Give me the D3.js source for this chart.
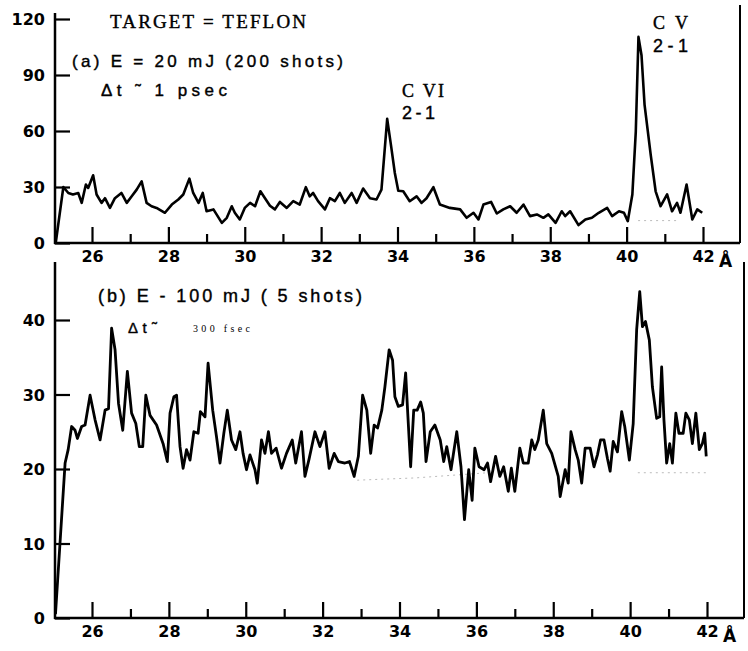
<!DOCTYPE html>
<html>
<head>
<meta charset="utf-8">
<script src="https://cdn.jsdelivr.net/npm/d3@7"></script>
<style>
  body { margin: 0; background: #fff; }
  svg { display: block; }
</style>
</head>
<body>
<svg id="chart" width="748" height="651"></svg>
<script>
// panel (a): E = 20 mJ, wavelength (A) and counts
let waveA = [25.05, 25.25, 25.38, 25.5, 25.64, 25.73, 25.84, 25.9, 26.03, 26.12, 26.25, 26.34, 26.47, 26.6, 26.77, 26.91,
  27.04, 27.17, 27.3, 27.43, 27.56, 27.69, 27.91, 28.09, 28.26, 28.39, 28.55, 28.65, 28.79, 28.9, 29.0, 29.18, 29.4,
  29.53, 29.66, 29.74, 29.87, 30.0, 30.14, 30.27, 30.41, 30.53, 30.66, 30.79, 30.92, 31.1, 31.27, 31.44, 31.6, 31.7,
  31.79, 31.92, 32.1, 32.23, 32.36, 32.49, 32.62, 32.8, 32.93, 33.1, 33.28, 33.45, 33.58, 33.73, 33.84, 33.93, 34.02,
  34.15, 34.32, 34.5, 34.63, 34.76, 34.94, 35.11, 35.37, 35.64, 35.81, 35.99, 36.12, 36.25, 36.45, 36.6, 36.77, 36.95,
  37.12, 37.3, 37.47, 37.65, 37.82, 37.95, 38.14, 38.3, 38.39, 38.52, 38.74, 38.92, 39.09, 39.27, 39.49, 39.62, 39.8,
  39.93, 40.03, 40.15, 40.24, 40.31, 40.39, 40.47, 40.63, 40.76, 40.89, 41.06, 41.19, 41.32, 41.41, 41.57, 41.72,
  41.85, 41.98];
let countsA = [0, 30, 26.8, 26, 26.8, 21.5, 31.3, 29.5, 36.3, 26, 21.5, 24, 18.8, 24, 26.8, 21.5,
  25, 28.6, 33, 21.5, 19.7, 18.8, 16.2, 20.6, 23.3, 26, 34.5, 26.8, 21.5, 26.8, 17, 18, 10.8,
  13.5, 19.7, 16.2, 12.6, 18.8, 21.5, 19.7, 27.7, 24, 20, 18, 22, 18.8, 22.4, 20.6, 29.9, 25,
  26.8, 22.4, 18, 24, 22.4, 26.8, 21.5, 26.8, 21.5, 29.2, 24, 23.3, 28.6, 66.5, 50.8, 37.5, 28,
  27.7, 22.4, 25, 21.5, 24, 29.9, 20.6, 18.8, 18, 13.5, 16.2, 12.6, 20.6, 22, 15.8, 18, 19.7,
  16.2, 20.6, 14.4, 15.3, 13.5, 15.3, 10.8, 17, 14.4, 17, 9.6, 12.6, 13.5, 16.2, 18.8, 14.4, 17,
  16.2, 11.7, 26, 59.7, 110.4, 100.6, 74, 47.3, 27.7, 19.7, 26, 17, 21.5, 16.2, 31.3, 12.6,
  18, 16.2];

// panel (b): E ~ 100 mJ
let waveB = [25.05, 25.3, 25.38, 25.47, 25.56, 25.62, 25.73, 25.82, 25.95, 26.08, 26.21, 26.34, 26.43, 26.51, 26.6,
  26.69, 26.8, 26.92, 27.03, 27.14, 27.23, 27.32, 27.4, 27.51, 27.68, 27.85, 27.96, 28.03, 28.13, 28.2, 28.29, 28.37,
  28.46, 28.55, 28.65, 28.76, 28.82, 28.94, 29.02, 29.14, 29.24, 29.33, 29.43, 29.52, 29.63, 29.74, 29.85, 29.93,
  30.02, 30.11, 30.24, 30.3, 30.41, 30.5, 30.59, 30.67, 30.79, 30.93, 31.06, 31.21, 31.3, 31.45, 31.54, 31.65, 31.8,
  31.93, 32.06, 32.17, 32.3, 32.41, 32.58, 32.7, 32.82, 32.93, 33.04, 33.15, 33.25, 33.34, 33.43, 33.54, 33.62, 33.73,
  33.82, 33.88, 33.97, 34.08, 34.16, 34.21, 34.29, 34.37, 34.46, 34.55, 34.62, 34.69, 34.8, 34.92, 35.06, 35.15,
  35.23, 35.34, 35.49, 35.6, 35.69, 35.8, 35.89, 35.96, 36.07, 36.2, 36.29, 36.37, 36.5, 36.61, 36.71, 36.83, 36.91,
  37.0, 37.13, 37.22, 37.35, 37.44, 37.52, 37.61, 37.74, 37.83, 37.96, 38.13, 38.18, 38.31, 38.39, 38.46, 38.57,
  38.65, 38.74, 38.83, 38.96, 39.06, 39.15, 39.23, 39.32, 39.41, 39.48, 39.56, 39.67, 39.78, 39.86, 39.98, 40.08,
  40.17, 40.25, 40.32, 40.4, 40.5, 40.58, 40.69, 40.77, 40.82, 40.88, 40.95, 41.03, 41.1, 41.19, 41.27, 41.38, 41.45,
  41.54, 41.62, 41.71, 41.8, 41.88, 41.94, 41.98];
let countsB = [0.5, 20.8, 22.6, 25.7, 25.2, 24.1, 25.7, 25.9, 29.9, 26.6, 23.9, 27.9, 28.1, 38.9, 36,
  28.8, 25.2, 33.1, 27.5, 26.1, 23, 23, 29.9, 27.2, 25.9, 23.4, 21, 27.5, 29.7, 29.9, 23, 20.1,
  22.6, 21.2, 25, 24.8, 27.7, 27, 34.2, 27.9, 24.3, 20.8, 24.8, 27.9, 23.9, 22.6, 25, 22.1,
  19.9, 21.9, 19.9, 18.1, 23.9, 22.1, 25, 22.1, 22.8, 20.1, 22.1, 23.9, 20.8, 25, 19, 21.4, 25,
  23, 25, 20.1, 22.1, 21, 20.8, 21, 19, 21.7, 29.9, 27.9, 22.1, 25.9, 25.5, 27.9, 31, 36,
  34.6, 29.7, 28.4, 28.6, 32.9, 27.9, 20.3, 27.9, 27.9, 29, 27.5, 21, 25, 25.9, 23.9, 21,
  23, 19.9, 25, 20.3, 13.2, 19.9, 15.8, 22.8, 20.3, 19.9, 20.8, 18.3, 21.7, 19, 20.3, 17, 20.1,
  17, 22.8, 20.8, 20.8, 23.9, 22.6, 23.9, 27.9, 23.4, 22.1, 19, 16.3, 19.9, 18.1, 25, 22.6,
  21.2, 18.1, 22.8, 22.8, 20.3, 21.9, 23.9, 23.9, 21.4, 19.7, 23.7, 22.3, 27.7, 25.7, 21.2, 26.1,
  38.7, 43.8, 39.1, 39.8, 37.3, 31, 26.8, 27, 33.7, 26.6, 20.8, 23.4, 20.8, 27.5, 24.8, 24.8, 27.5,
  26.6, 23.4, 27.5, 22.6, 23.4, 24.8, 21.7];

// faint dotted baselines drawn under the lines
let baseA = [[40.3, 12], [41.4, 12]];
let baseB1 = [[32.9, 18.5], [34.4, 18.8], [36.3, 19.5]];
let baseB2 = [[40.2, 19.5], [42.0, 19.5]];

let majorTicks = [26, 28, 30, 32, 34, 36, 38, 40, 42];
let minorTicks = [27, 29, 31, 33, 35, 37, 39, 41];
let yTicksA = [0, 30, 60, 90, 120];
let yTicksB = [0, 10, 20, 30, 40];

let svg = d3.select("#chart");
let tickFont = "'DejaVu Sans', 'Liberation Sans', sans-serif";

function drawPanel(cfg) {
  let x = d3.scaleLinear().domain([26, 42]).range([cfg.x26, cfg.x42]);
  let y = d3.scaleLinear().domain([0, cfg.yTop]).range([cfg.y0, cfg.yTopPx]);

  let g = svg.append("g");

  // frame: left axis, bottom axis, right border
  g.append("line").attr("x1", 55).attr("x2", 55).attr("y1", cfg.axisTop).attr("y2", cfg.y0 + 1)
    .attr("stroke", "#000").attr("stroke-width", 2.5);
  g.append("line").attr("x1", 54).attr("x2", cfg.right).attr("y1", cfg.y0).attr("y2", cfg.y0)
    .attr("stroke", "#000").attr("stroke-width", 2.5);
  g.append("line").attr("x1", cfg.right).attr("x2", cfg.right).attr("y1", cfg.rightTop).attr("y2", cfg.y0)
    .attr("stroke", "#000").attr("stroke-width", 2);

  // x ticks point up, labels below
  let xMajor = d3.axisBottom(x).tickValues(majorTicks).tickSizeInner(-16).tickSizeOuter(0).tickPadding(8);
  let xg = g.append("g").attr("transform", "translate(0," + cfg.y0 + ")").call(xMajor);
  let xMinor = d3.axisBottom(x).tickValues(minorTicks).tickSizeInner(-9).tickSizeOuter(0).tickFormat("");
  let xg2 = g.append("g").attr("transform", "translate(0," + cfg.y0 + ")").call(xMinor);

  // y ticks point right
  let yAxis = d3.axisLeft(y).tickValues(cfg.yTicks).tickSizeInner(-15).tickSizeOuter(0).tickPadding(10);
  let yg = g.append("g").attr("transform", "translate(55,0)").call(yAxis);

  for (let a of [xg, xg2, yg]) {
    a.select(".domain").remove();
    a.selectAll(".tick line").attr("stroke", "#000").attr("stroke-width", 2.2);
    a.selectAll(".tick text")
      .style("font-family", tickFont)
      .style("font-weight", "bold")
      .style("font-size", "16px")
      .attr("fill", "#000");
  }
  yg.selectAll(".tick text").attr("dy", "0.36em");

  // angstrom sign after the last label
  g.append("text")
    .attr("x", cfg.angX)
    .attr("y", cfg.y0 + 24)
    .text("Å")
    .style("font-family", tickFont)
    .style("font-weight", "bold")
    .style("font-size", "17px");

  // dotted baselines
  let line = d3.line().x(d => x(d[0])).y(d => y(d[1]));
  for (let b of cfg.bases) {
    g.append("path")
      .attr("d", line(b))
      .attr("fill", "none")
      .attr("stroke", "#bbb")
      .attr("stroke-width", 1)
      .attr("stroke-dasharray", "2,4");
  }

  // the spectrum
  let pts = cfg.wave.map((w, i) => [w, cfg.counts[i]]);
  g.append("path")
    .attr("d", line(pts))
    .attr("fill", "none")
    .attr("stroke", "#000")
    .attr("stroke-width", cfg.lineW)
    .attr("stroke-linejoin", "round");
}

drawPanel({
  x26: 92, x42: 703, y0: 243, yTopPx: 19, yTop: 120, yTicks: yTicksA,
  axisTop: 13, right: 740, rightTop: 5, angX: 719, lineW: 2.6,
  wave: waveA, counts: countsA, bases: [baseA]
});

drawPanel({
  x26: 92, x42: 707, y0: 618, yTopPx: 320, yTop: 40, yTicks: yTicksB,
  axisTop: 262, right: 744, rightTop: 262, angX: 723, lineW: 2.8,
  wave: waveB, counts: countsB, bases: [baseB1, baseB2]
});

// annotations
function label(txt, x, y, size, family, len) {
  let t = svg.append("text")
    .attr("x", x)
    .attr("y", y)
    .text(txt)
    .style("font-family", family)
    .style("font-size", size + "px")
    .attr("fill", "#000")
    .attr("stroke", "#000")
    .attr("stroke-width", 0.4);
  if (len) t.attr("textLength", len).attr("lengthAdjust", "spacing");
  return t;
}
let serif = "'Liberation Serif', 'Times New Roman', serif";
let sans = "'Liberation Sans', Arial, sans-serif";

label("TARGET = TEFLON", 110, 28, 19, serif, 196);
label("(a) E = 20 mJ (200 shots)", 72, 67, 17, sans, 271);
label("Δt ˜ 1  psec", 101, 96, 17, sans, 126);
label("C VI", 402, 97, 18, serif, 42);
label("2-1", 402, 119, 18, sans, 33);
label("C V", 653, 29, 18, serif, 35);
label("2-1", 653, 52, 18, sans, 35);

label("(b) E - 100 mJ ( 5 shots)", 98, 302, 18, sans, 264);
label("Δ t ˜", 128, 333, 15, sans, 29);
label("300 fsec", 193, 332, 10, serif, 57).attr("stroke-width", 0);
</script>
</body>
</html>
